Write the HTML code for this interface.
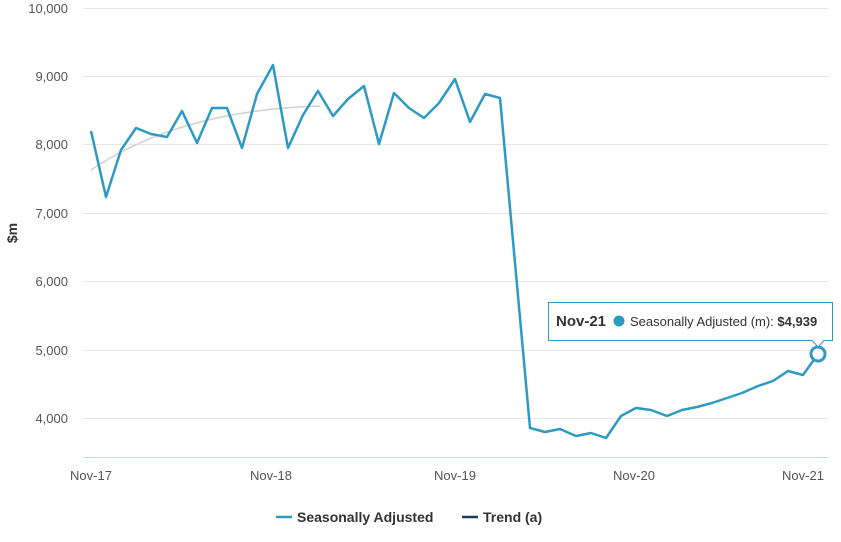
<!DOCTYPE html>
<html><head><meta charset="utf-8"><style>
body{margin:0;background:#fff;}
svg{display:block;font-family:"Liberation Sans",sans-serif;}
</style></head><body>
<svg width="841" height="542" viewBox="0 0 841 542">
<g stroke="#e6e6e6" stroke-width="1">
<line x1="83" x2="828" y1="8.5" y2="8.5"/><line x1="83" x2="828" y1="76.5" y2="76.5"/>
<line x1="83" x2="828" y1="144.5" y2="144.5"/><line x1="83" x2="828" y1="213.5" y2="213.5"/>
<line x1="83" x2="828" y1="281.5" y2="281.5"/><line x1="83" x2="828" y1="350.5" y2="350.5"/>
<line x1="83" x2="828" y1="418.5" y2="418.5"/>
</g>
<line x1="83" x2="828" y1="457.5" y2="457.5" stroke="#ccd6eb"/>
<g font-size="13" fill="#555" text-anchor="end">
<text x="68" y="13">10,000</text><text x="68" y="81">9,000</text><text x="68" y="149">8,000</text>
<text x="68" y="218">7,000</text><text x="68" y="286">6,000</text><text x="68" y="355">5,000</text>
<text x="68" y="423">4,000</text>
</g>
<g font-size="13" fill="#555" text-anchor="middle">
<text x="91" y="480">Nov-17</text><text x="271" y="480">Nov-18</text><text x="455" y="480">Nov-19</text>
<text x="634" y="480">Nov-20</text><text x="803" y="480">Nov-21</text>
</g>
<text transform="translate(17,233) rotate(-90)" font-size="14" font-weight="bold" fill="#333" text-anchor="middle">$m</text>
<path d="M91,170 Q180,110 320,106" fill="none" stroke="#d0d0d0" stroke-width="1.5"/>
<polyline fill="none" stroke="#2e9ac4" stroke-width="2.5" stroke-linejoin="round" points="91,131 106,197 121,150 136,128 151,134 167,137 182,111 197,143 212,108 227,108 242,148 257,94 273,65 288,148 303,115 318,91 333,116 348,99 364,86 379,144 394,93 409,108 424,118 439,103 455,79 470,122 485,94 500,98 515,263 530,428 545,432 560,429 576,436 591,433 606,438 621,416 636,408 651,410 667,416 682,410 697,407 712,403 727,398 742,393 758,386 773,381 788,371 803,375 818,354"/>
<circle cx="818" cy="354" r="7" fill="#fff" stroke="#2e9ac4" stroke-width="3"/>
<path d="M548.5,302.5 H832.5 V340.5 H824 L818,347 L812,340.5 H548.5 Z" fill="#fff" fill-opacity="0.95" stroke="#2e9ac4"/>
<text x="556" y="326" font-size="15" fill="#333" font-weight="bold">Nov-21</text>
<circle cx="619" cy="321" r="5.5" fill="#2e9ac4"/>
<text x="630" y="326" font-size="13" fill="#333">Seasonally Adjusted (m): <tspan font-weight="bold">$4,939</tspan></text>
<line x1="276" x2="292" y1="517" y2="517" stroke="#2e9ac4" stroke-width="2.5"/>
<text x="297" y="522" font-size="14" font-weight="bold" fill="#333">Seasonally Adjusted</text>
<line x1="462" x2="478" y1="517" y2="517" stroke="#1b3a5c" stroke-width="2.5"/>
<text x="483" y="522" font-size="14" font-weight="bold" fill="#333">Trend (a)</text>
</svg>
</body></html>
